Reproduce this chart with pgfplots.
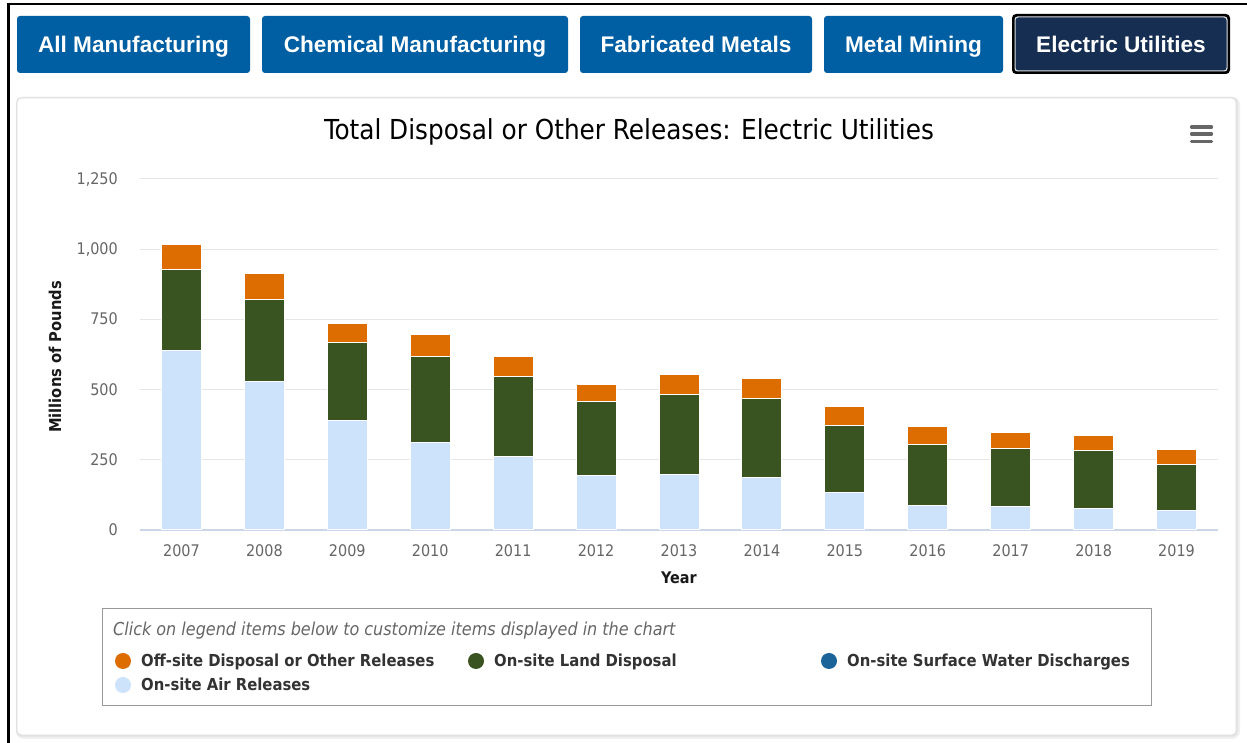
\documentclass[border=0pt]{standalone}
\usepackage{pgfplots}
\pgfplotsset{compat=1.18}
\usepackage{fontspec}
\setmainfont{DejaVu Sans Condensed}[BoldFont={DejaVu Sans Condensed Bold}, ItalicFont={DejaVu Sans Condensed Oblique}]
\newfontfamily\btnfont{Liberation Sans}
\definecolor{btnblue}{HTML}{005EA2}
\definecolor{navy}{HTML}{162E51}
\definecolor{offsite}{HTML}{DD6D00}
\definecolor{land}{HTML}{3A5421}
\definecolor{air}{HTML}{CCE3FB}
\definecolor{water}{HTML}{1B6499}
\definecolor{gridc}{HTML}{E6E6E6}
\definecolor{axisc}{HTML}{CCD6EB}
\definecolor{tickc}{HTML}{666666}
\definecolor{txt}{HTML}{333333}
\begin{document}
\begin{tikzpicture}[x=1pt,y=1pt]
\useasboundingbox (0,0) rectangle (1247,743);
\fill[white] (0,0) rectangle (1247,743);
% outer frame
\draw[black, line width=2.5pt] (8.5,0) -- (8.5,739) -- (1247,739);
% buttons
\foreach \xa/\xb/\lab in {17/250/All Manufacturing, 262/568/Chemical Manufacturing, 580/812/Fabricated Metals, 824/1003/Metal Mining}{
  \fill[btnblue, rounded corners=3pt] (\xa,670) rectangle (\xb,727);
  \node[anchor=base, white, inner sep=0, font=\btnfont\bfseries\fontsize{22.6pt}{26pt}\selectfont] at ({(\xa+\xb)/2},690.5) {\lab};
}
\fill[black, rounded corners=4pt] (1012,669) rectangle (1230,729);
\fill[white!85!navy, rounded corners=3pt] (1014.5,671.5) rectangle (1227.5,726.5);
\fill[navy, rounded corners=3pt] (1015.5,672.5) rectangle (1226.5,725.5);
\node[anchor=base, white, inner sep=0, font=\btnfont\bfseries\fontsize{22.6pt}{26pt}\selectfont] at (1121,690.5) {Electric Utilities};
% panel with shadow
\draw[black!6, line width=4pt, rounded corners=6pt] (18,6) rectangle (1238,644);
\draw[black!10, line width=2pt, rounded corners=5pt] (17,7) rectangle (1237,645);
\fill[white, rounded corners=4pt] (17,8) rectangle (1236,645);
\draw[black!14, line width=0.8pt, rounded corners=4pt] (17,8) rectangle (1236,645);
% title
\node[anchor=base, inner sep=0, text=black, font=\fontsize{27.5pt}{32pt}\selectfont] at (629,603) {Total Disposal or Other Releases: Electric Utilities};
% hamburger
\foreach \yy in {616,609,601.5}{
  \draw[tickc, line width=3.2pt, line cap=round] (1191.5,\yy) -- (1211.5,\yy);
}
% axis
\begin{axis}[
  at={(140pt,213pt)}, anchor=south west,
  scale only axis, width=1078pt, height=351pt,
  ybar stacked, bar width=40pt,
  xmin=-0.5, xmax=12.5, ymin=0, ymax=1250,
  xtick={0,...,12},
  xticklabels={2007,2008,2009,2010,2011,2012,2013,2014,2015,2016,2017,2018,2019},
  ytick={0,250,500,750,1000,1250},
  /pgf/number format/assume math mode=true,
  /pgf/number format/1000 sep={,},
  scaled y ticks=false,
  ymajorgrids, major grid style={gridc, line width=1pt},
  axis x line*=bottom, axis y line*=left,
  x axis line style={-, axisc, line width=1.2pt},
  y axis line style={draw=none},
  major tick length=0pt,
  ticklabel style={font=\fontsize{16pt}{19pt}\selectfont, text=tickc},
  xticklabel style={anchor=base, inner sep=0pt, yshift=-27pt},
  yticklabel style={anchor=base east, inner sep=0pt, xshift=-22pt, yshift=-5.5pt},
  clip=false,
]
\addplot+[fill=air, draw=white, line width=1pt] coordinates {(0,639) (1,528) (2,390) (3,311) (4,261) (5,194) (6,197) (7,188) (8,132) (9,88) (10,84) (11,77) (12,68)};
\addplot+[fill=land, draw=white, line width=1pt] coordinates {(0,288) (1,293) (2,278) (3,308) (4,285) (5,263) (6,284) (7,279) (8,241) (9,216) (10,205) (11,207) (12,166)};
\addplot+[fill=offsite, draw=white, line width=1pt] coordinates {(0,89) (1,92) (2,67) (3,77) (4,72) (5,62) (6,73) (7,71) (8,67) (9,64) (10,58) (11,53) (12,54)};
\end{axis}
% axis titles
\node[rotate=90, anchor=center, inner sep=0, text=black!90, font=\bfseries\fontsize{16.3pt}{19pt}\selectfont] at (55,386) {Millions of Pounds};
\node[anchor=base, inner sep=0, text=black!90, font=\bfseries\fontsize{16pt}{19pt}\selectfont] at (679,159) {Year};
% legend box
\draw[black!40, line width=1pt] (102,37) rectangle (1151,134);
\node[anchor=base west, inner sep=0, text=tickc, font=\itshape\fontsize{17.8pt}{20pt}\selectfont] at (113,107.5) {Click on legend items below to customize items displayed in the chart};
\fill[offsite] (123,82) circle (8);
\fill[land] (476,82) circle (8);
\fill[water] (829,82) circle (8);
\fill[air] (123,58) circle (8);
\tikzset{lg/.style={anchor=base west, inner sep=0, text=txt, font=\bfseries\fontsize{16.5pt}{19pt}\selectfont}}
\node[lg] at (141,76) {Off-site Disposal or Other Releases};
\node[lg] at (494,76) {On-site Land Disposal};
\node[lg] at (847,76) {On-site Surface Water Discharges};
\node[lg] at (141,52) {On-site Air Releases};
\end{tikzpicture}
\end{document}
